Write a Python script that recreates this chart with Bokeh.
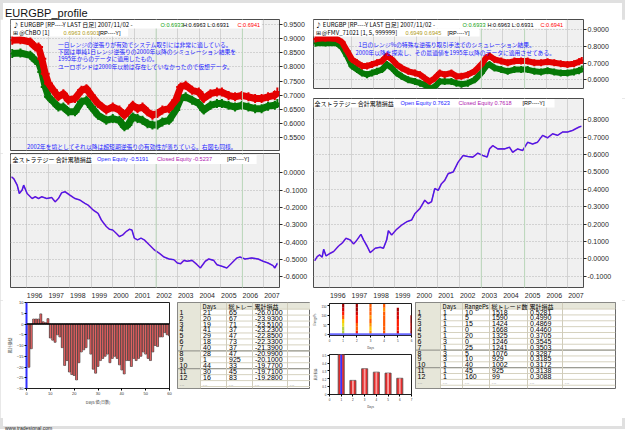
from bokeh.plotting import figure
from bokeh.layouts import row, column
from bokeh.models import (Range1d, FixedTicker, NumeralTickFormatter, Label, Span, BoxAnnotation,
                          ColumnDataSource, LinearColorMapper, Div)
from bokeh.core.properties import value
from bokeh.embed import file_html
from bokeh.resources import INLINE

JP = "Noto Sans CJK JP"
LAT = "Liberation Sans"

YEARS = list(range(1996, 2008))
X_SPAN = (1995.25, 2007.72)
FRAME_W = 270
X_PPU = FRAME_W / (X_SPAN[1] - X_SPAN[0])

# ---------------- price channels (decimal years) ----------------
lp_year = [1995.33, 1995.71, 1996.17, 1996.40, 1996.55, 1996.70, 1996.86, 1997.01, 1997.24, 1997.47,
           1997.70, 1997.93, 1998.24, 1998.54, 1998.77, 1999.00, 1999.31, 1999.69, 1999.99, 2000.30,
           2000.53, 2000.69, 2000.92, 2001.14, 2001.37, 2001.60, 2001.83, 2002.06, 2002.29, 2002.60,
           2002.91, 2003.14, 2003.37, 2003.67, 2003.98, 2004.21, 2004.52, 2004.82, 2005.05, 2005.36,
           2005.66, 2005.97, 2006.28, 2006.59, 2006.89, 2007.19, 2007.50, 2007.62]
lp_upper = [0.894, 0.896, 0.888, 0.870, 0.870, 0.829, 0.776, 0.741, 0.717, 0.694,
            0.705, 0.682, 0.688, 0.717, 0.723, 0.699, 0.670, 0.647, 0.658, 0.647,
            0.629, 0.641, 0.664, 0.652, 0.658, 0.641, 0.629, 0.635, 0.647, 0.652,
            0.682, 0.729, 0.735, 0.717, 0.711, 0.688, 0.705, 0.711, 0.711, 0.699,
            0.694, 0.699, 0.694, 0.688, 0.688, 0.694, 0.699, 0.711]
lp_lower = [0.847, 0.849, 0.841, 0.823, 0.817, 0.782, 0.729, 0.694, 0.676, 0.658,
            0.658, 0.641, 0.641, 0.676, 0.682, 0.658, 0.629, 0.611, 0.617, 0.611,
            0.588, 0.594, 0.623, 0.617, 0.611, 0.599, 0.594, 0.594, 0.605, 0.611,
            0.647, 0.688, 0.694, 0.682, 0.670, 0.647, 0.664, 0.670, 0.670, 0.664,
            0.658, 0.664, 0.658, 0.652, 0.652, 0.661, 0.664, 0.670]

rp_year = [1995.34, 1995.80, 1996.34, 1996.57, 1996.80, 1997.03, 1997.26, 1997.49, 1997.72, 1997.95,
           1998.18, 1998.41, 1998.64, 1998.87, 1999.09, 1999.32, 1999.63, 1999.94, 2000.17, 2000.39,
           2000.62, 2000.85, 2001.08, 2001.31, 2001.62, 2001.85, 2002.08, 2002.38, 2002.69, 2003.00,
           2003.23, 2003.38, 2003.61, 2003.92, 2004.22, 2004.53, 2004.84, 2005.14, 2005.45, 2005.76,
           2006.06, 2006.37, 2006.67, 2006.98, 2007.28, 2007.51, 2007.64]
rp_upper = [0.845, 0.849, 0.845, 0.825, 0.774, 0.723, 0.703, 0.683, 0.683, 0.693,
            0.703, 0.713, 0.744, 0.723, 0.693, 0.672, 0.652, 0.642, 0.632, 0.611,
            0.591, 0.611, 0.642, 0.632, 0.642, 0.622, 0.622, 0.632, 0.652, 0.693,
            0.733, 0.744, 0.723, 0.713, 0.703, 0.713, 0.713, 0.713, 0.703, 0.703,
            0.709, 0.703, 0.697, 0.693, 0.697, 0.709, 0.717]
rp_lower = [0.819, 0.821, 0.819, 0.794, 0.744, 0.683, 0.662, 0.642, 0.632, 0.642,
            0.652, 0.662, 0.693, 0.672, 0.642, 0.622, 0.601, 0.591, 0.581, 0.571,
            0.546, 0.561, 0.591, 0.591, 0.591, 0.581, 0.575, 0.581, 0.601, 0.642,
            0.683, 0.693, 0.672, 0.662, 0.652, 0.662, 0.662, 0.662, 0.652, 0.648,
            0.656, 0.648, 0.642, 0.642, 0.648, 0.656, 0.666]

# ---------------- cumulative equity ----------------
le_year = [1995.30, 1995.40, 1995.56, 1995.66, 1995.79, 1995.86, 1996.02, 1996.25, 1996.40, 1996.55,
           1996.70, 1996.93, 1997.16, 1997.32, 1997.47, 1997.62, 1997.78, 1998.01, 1998.24, 1998.47,
           1998.70, 1998.85, 1999.08, 1999.31, 1999.46, 1999.69, 1999.84, 1999.99, 2000.15, 2000.30,
           2000.46, 2000.61, 2000.76, 2000.88, 2000.99, 2001.14, 2001.30, 2001.45, 2001.68, 2001.91,
           2002.14, 2002.37, 2002.60, 2002.83, 2002.98, 2003.14, 2003.29, 2003.44, 2003.67, 2003.90,
           2004.05, 2004.28, 2004.44, 2004.67, 2004.82, 2005.05, 2005.28, 2005.51, 2005.74, 2005.89,
           2006.12, 2006.43, 2006.73, 2006.96, 2007.19, 2007.42, 2007.50, 2007.62]
le_open = [-0.025, -0.034, -0.072, -0.120, -0.100, -0.072, -0.120, -0.149, -0.139, -0.149,
           -0.139, -0.149, -0.143, -0.168, -0.149, -0.116, -0.110, -0.130, -0.149, -0.158,
           -0.177, -0.187, -0.215, -0.234, -0.272, -0.310, -0.326, -0.330, -0.349, -0.368,
           -0.358, -0.339, -0.326, -0.330, -0.377, -0.387, -0.377, -0.387, -0.415, -0.444,
           -0.463, -0.486, -0.497, -0.501, -0.520, -0.524, -0.505, -0.510, -0.505, -0.530,
           -0.549, -0.510, -0.497, -0.505, -0.530, -0.539, -0.549, -0.520, -0.491, -0.486,
           -0.497, -0.491, -0.497, -0.510, -0.520, -0.535, -0.549, -0.5191]
le_closed = le_open[:-1] + [-0.5237]

re_year = [1995.31, 1995.42, 1995.53, 1995.65, 1995.72, 1995.83, 1995.98, 1996.18, 1996.41, 1996.57,
           1996.75, 1996.95, 1997.10, 1997.26, 1997.44, 1997.56, 1997.72, 1997.87, 1998.10, 1998.33,
           1998.48, 1998.63, 1998.71, 1998.86, 1999.09, 1999.32, 1999.55, 1999.78, 1999.94, 2000.17,
           2000.39, 2000.55, 2000.70, 2000.85, 2001.01, 2001.16, 2001.31, 2001.47, 2001.70, 2001.93,
           2002.16, 2002.38, 2002.61, 2002.84, 2003.07, 2003.27, 2003.38, 2003.53, 2003.76, 2004.07,
           2004.30, 2004.45, 2004.68, 2004.91, 2005.14, 2005.37, 2005.60, 2005.83, 2006.06, 2006.29,
           2006.52, 2006.75, 2006.98, 2007.21, 2007.36, 2007.52, 2007.62]
re_open = [-0.010, 0.013, 0.023, 0.010, 0.055, 0.017, 0.029, 0.042, 0.074, 0.090,
           0.118, 0.109, 0.086, 0.109, 0.141, 0.109, 0.074, 0.036, 0.061, 0.067,
           0.061, 0.109, 0.162, 0.137, 0.170, 0.194, 0.213, 0.223, 0.261, 0.290,
           0.337, 0.318, 0.328, 0.404, 0.394, 0.432, 0.451, 0.490, 0.499, 0.556,
           0.594, 0.588, 0.585, 0.608, 0.594, 0.585, 0.632, 0.651, 0.632, 0.632,
           0.642, 0.613, 0.632, 0.623, 0.670, 0.660, 0.671, 0.710, 0.696, 0.719,
           0.710, 0.729, 0.729, 0.738, 0.748, 0.758, 0.7623]
re_closed = re_open[:-1] + [0.7618]

# ---------------- holding-period profile ----------------
day_num = list(range(1, 61))
day_pnl = [-20.10, -11.5, 2.3, 2.3, 2.3, 4.7, 1.0, 0.6, 2.5, -6.5,
           -7.5, -8.5, -5.0, -6.0, -11.0, -19.28, -17.0, -22.33, -23.51, -23.93,
           -26.01, -18.0, -13.0, -12.0, -11.0, -7.0, -14.0, -20.99, -22.85, -19.71,
           -17.0, -16.0, -15.0, -14.0, -18.0, -16.0, -15.0, -16.0, -19.0, -21.39,
           -23.23, -17.0, -17.0, -19.77, -16.0, -17.0, -16.0, -15.0, -13.0, -14.0,
           -16.0, -17.0, -13.0, -10.0, -10.5, -6.0, -6.0, -4.0, -5.0, -5.5]

lt_days = [21, 20, 19, 41, 29, 18, 40, 28, 1, 44, 30, 16]
lt_trades = [65, 67, 71, 37, 47, 73, 37, 47, 925, 33, 45, 83]
lt_pnl = [-26.01, -23.93, -23.51, -23.23, -22.85, -22.33, -21.39, -20.99, -20.10, -19.77, -19.71, -19.28]

rt_days = [1, 1, 1, 1, 1, 3, 1, 3, 3, 1, 1, 1]
rt_range = [10, 5, 15, 0, 20, 0, 25, 5, 10, 40, 45, 160]
rt_trades = [1518, 1590, 1424, 1668, 1325, 1246, 1241, 1076, 929, 1002, 925, 99]
rt_pnl = [0.5281, 0.4990, 0.4869, 0.4460, 0.3705, 0.3545, 0.3503, 0.3287, 0.3185, 0.3172, 0.3138, 0.3088]

best_day = [1, 2, 3, 4, 5, 6]
best_pnl = [0.5281, 0.180, 0.3287, 0.285, 0.273, 0.207]

heat_bins = [10, 30, 50, 70, 90, 110, 130, 150]
heat_by_day = {
    1: [0.50, 0.48, 0.42, 0.36, 0.30, 0.24, 0.18, 0.14],
    2: [0.22, 0.28, 0.30, 0.26, 0.22, 0.18, 0.16, 0.14],
    3: [0.33, 0.36, 0.34, 0.30, 0.32, 0.30, 0.28, 0.30],
    4: [0.28, 0.30, 0.29, 0.28, 0.29, 0.30, 0.31, 0.30],
    5: [0.20, 0.22, 0.24, 0.22, 0.20, 0.18, 0.16],
    6: [0.16, 0.18, 0.17, 0.15, 0.14],
}


def style_axis(ax, size="7px", tick=3):
    ax.major_label_text_font = LAT
    ax.major_label_text_font_size = size
    ax.major_label_text_color = "#2a2a2a"
    ax.major_tick_line_color = "#2a2a2a"
    ax.major_tick_in = 0
    ax.major_tick_out = tick
    ax.minor_tick_line_color = None
    ax.axis_line_color = None
    ax.major_label_standoff = 1


def market_panel(width, height, borders, y_top, ppu, yticks, dates=False, green_years=()):
    left, right, top, bottom = borders
    frame_h = height - top - bottom
    p = figure(width=width, height=height,
               x_range=Range1d(*X_SPAN), y_range=Range1d(y_top - frame_h / ppu, y_top),
               output_backend="svg", toolbar_location=None,
               x_axis_location="below" if dates else None, y_axis_location="right",
               min_border_left=left, min_border_right=right,
               min_border_top=top, min_border_bottom=bottom,
               background_fill_color="#f0f0f0", border_fill_color="white",
               outline_line_color="#4c4c4c", outline_line_width=1)
    ya = p.yaxis[0]
    ya.ticker = FixedTicker(ticks=yticks)
    ya.formatter = NumeralTickFormatter(format="0.0000")
    style_axis(ya)
    p.xgrid.ticker = FixedTicker(ticks=YEARS)
    p.xgrid.grid_line_color = "#d2d2d2"
    p.ygrid.grid_line_color = "#b4b4b4"
    p.ygrid.grid_line_dash = "1 2"
    for yr in green_years:
        p.add_layout(Span(location=yr, dimension="height", line_color="#bcd9bc", line_width=1))
    if dates:
        # year labels sit just right of each year boundary
        xa = p.xaxis[0]
        label_pos = [y + 0.37 for y in YEARS]
        xa.ticker = FixedTicker(ticks=label_pos)
        xa.major_label_overrides = {pos: str(y) for pos, y in zip(label_pos, YEARS)}
        style_axis(xa)
        xa.major_tick_line_color = None
        xa.major_label_standoff = 2
    return p


def tag(p, y_top, ppu, dx, dy, text, color="#000000", size="5.6px", font=LAT, at_right=False):
    lab = Label(x=X_SPAN[1] if at_right else X_SPAN[0], y=y_top - dy / ppu, x_offset=dx,
                text=text, text_color=color, text_font_size=size, text_font=font,
                text_baseline="middle", text_align="left")
    p.add_layout(lab)


def white_strip(p, y_top, ppu, px_right, dy0, dy1):
    p.add_layout(BoxAnnotation(left=X_SPAN[0], right=X_SPAN[0] + px_right / X_PPU,
                               top=y_top - dy0 / ppu, bottom=y_top - dy1 / ppu,
                               fill_color="white", fill_alpha=1.0, line_color=None))


# ---------------- left: price with channel breakout ----------------
LP_TOP, LP_PPU = 0.9677, 282.5
lp = market_panel(310, 134, (10, 30, 0, 3), LP_TOP, LP_PPU,
                  [0.55, 0.60, 0.65, 0.70, 0.75, 0.80, 0.85, 0.90, 0.95], green_years=(2002, 2006))
lp.line(lp_year, lp_lower, line_color="#067806", line_width=7, line_join="round")
lp.scatter(lp_year, lp_lower, marker="cross", size=9, line_color="#067806", line_width=2)
lp.line(lp_year, lp_upper, line_color="#e40000", line_width=7, line_join="round")
lp.scatter(lp_year, lp_upper, marker="cross", size=9, line_color="#e40000", line_width=2)
white_strip(lp, LP_TOP, LP_PPU, 252, 0.5, 9)
white_strip(lp, LP_TOP, LP_PPU, 118, 9, 17)
tag(lp, LP_TOP, LP_PPU, 2.5, 5, "♪ EURGBP [RP----Y LAST 日足] 2007/11/02 - ", size="6px", font=JP)
tag(lp, LP_TOP, LP_PPU, 150, 5, "O:0.6933", color="#10a010")
tag(lp, LP_TOP, LP_PPU, 172.5, 5, "H:0.6963 L:0.6931")
tag(lp, LP_TOP, LP_PPU, 227, 5, "C:0.6941", color="#ff0000")
tag(lp, LP_TOP, LP_PPU, 2.5, 13, "⊞ @ChBO [1]", size="6px", font=JP)
tag(lp, LP_TOP, LP_PPU, 53, 13, "0.6963 0.6901", color="#b09a20")
tag(lp, LP_TOP, LP_PPU, 88, 13, "[RP----Y]")
note_lines = ["一日レンジの逆張りが有効でシステム取引には非常に適している。",
              "下図は単純1日レンジ逆張りの2000年以降のシミュレーション結果を",
              "1995年からのデータに適用したもの。",
              "ユーロポンドは2000年以前は存在していなかったので仮想データ。"]
for i, line in enumerate(note_lines):
    tag(lp, LP_TOP, LP_PPU, 47.5, 25 + i * 7.2, line, color="#1c1cff", size="5.8px", font=JP)
tag(lp, LP_TOP, LP_PPU, 16.5, 126.7,
    "2002年を境としてそれ以降は超短期逆張りの有効性が落ちている。右図も同様。",
    color="#1c1cff", size="5.8px", font=JP)

# ---------------- left: cumulative equity ----------------
LE_TOP, LE_PPU = 0.1103, 175.0
le = market_panel(310, 147, (10, 30, 0, 12), LE_TOP, LE_PPU,
                  [-0.6, -0.5, -0.4, -0.3, -0.2, -0.1, 0.0], dates=True, green_years=(2002, 2006))
le.line(le_year, le_closed, line_color="#a020d0", line_width=1.6)
le.line(le_year, le_open, line_color="#2424f0", line_width=0.9)
white_strip(le, LE_TOP, LE_PPU, 247, 1.5, 10.5)
tag(le, LE_TOP, LE_PPU, 2, 6, "全ストラテジー 合計累積損益", size="6px", font=JP)
tag(le, LE_TOP, LE_PPU, 86.5, 6, "Open Equity -0.5191", color="#1a1aff")
tag(le, LE_TOP, LE_PPU, 146.5, 6, "Closed Equity -0.5237", color="#b020b0")
tag(le, LE_TOP, LE_PPU, 216.5, 6, "[RP----Y]")
tag(le, LE_TOP, LE_PPU, 3, 5, "CEquity", size="6.5px", at_right=True)

# ---------------- right: price with range filter ----------------
RP_TOP, RP_PPU = 0.9616, 167.3
rp = market_panel(315, 79, (3, 42, 0, 10), RP_TOP, RP_PPU, [0.6, 0.7, 0.8, 0.9],
                  green_years=(2003, 2005))
rp.line(rp_year, rp_lower, line_color="#067806", line_width=6, line_join="round")
rp.scatter(rp_year, rp_lower, marker="cross", size=7, line_color="#067806", line_width=2)
rp.line(rp_year, rp_upper, line_color="#e40000", line_width=6, line_join="round")
rp.scatter(rp_year, rp_upper, marker="cross", size=7, line_color="#e40000", line_width=2)
white_strip(rp, RP_TOP, RP_PPU, 252, 0.5, 9)
white_strip(rp, RP_TOP, RP_PPU, 166, 9, 17)
tag(rp, RP_TOP, RP_PPU, 2, 5, "♪ EURGBP [RP----Y LAST 日足] 2007/11/02 - ", size="6px", font=JP)
tag(rp, RP_TOP, RP_PPU, 149, 5, "O:0.6933", color="#10a010")
tag(rp, RP_TOP, RP_PPU, 174, 5, "H:0.6963 L:0.6931")
tag(rp, RP_TOP, RP_PPU, 227, 5, "C:0.6941", color="#ff0000")
tag(rp, RP_TOP, RP_PPU, 2, 13, "⊞ @FMV_71021 [1, 5, 999999]", size="6px", font=JP)
tag(rp, RP_TOP, RP_PPU, 92, 13, "0.6949 0.6945", color="#b09a20")
tag(rp, RP_TOP, RP_PPU, 134, 13, "[RP----Y]")
tag(rp, RP_TOP, RP_PPU, 45, 25.3, "1日のレンジ%の特殊な逆張り取引手法でのシミュレーション結果。",
    color="#1c1cff", size="5.8px", font=JP)
tag(rp, RP_TOP, RP_PPU, 42, 33.3, "2000年以降を探索し、その最適値を1995年以降のデータに適用させてある。",
    color="#1c1cff", size="5.8px", font=JP)

# ---------------- right: cumulative equity ----------------
RE_TOP, RE_PPU = 0.9218, 174.9
re = market_panel(315, 202, (3, 42, 0, 12), RE_TOP, RE_PPU,
                  [-0.1, 0.0, 0.1, 0.2, 0.3, 0.4, 0.5, 0.6, 0.7, 0.8], dates=True,
                  green_years=(2003, 2005))
re.line(re_year, re_closed, line_color="#a020d0", line_width=1.6)
re.line(re_year, re_open, line_color="#2424f0", line_width=0.9)
white_strip(re, RE_TOP, RE_PPU, 241, 0.5, 9)
tag(re, RE_TOP, RE_PPU, 1, 5, "全ストラテジー 合計累積損益", size="6px", font=JP)
tag(re, RE_TOP, RE_PPU, 87, 5, "Open Equity 0.7623", color="#1a1aff")
tag(re, RE_TOP, RE_PPU, 145, 5, "Closed Equity 0.7618", color="#b020b0")
tag(re, RE_TOP, RE_PPU, 209, 5, "[RP----Y]")
tag(re, RE_TOP, RE_PPU, 2, 4, "CEquity", size="6.5px", at_right=True)


# ---------------- bottom: small charts ----------------
def tiny_axes(p, xticks, yticks, xlabel, ylabel, size="3.5px"):
    for ax, ticks in ((p.xaxis[0], xticks), (p.yaxis[0], yticks)):
        ax.ticker = FixedTicker(ticks=ticks)
        ax.major_label_text_font = LAT
        ax.major_label_text_font_size = size
        ax.major_label_text_color = "#333333"
        ax.major_tick_in = 0
        ax.major_tick_out = 2
        ax.minor_tick_line_color = None
        ax.major_label_standoff = 1
        ax.axis_label_text_font = JP
        ax.axis_label_text_font_size = size
        ax.axis_label_text_font_style = "normal"
        ax.axis_label_standoff = 1
        ax.axis_line_color = "#202020"
    p.xaxis[0].axis_label = xlabel
    p.yaxis[0].axis_label = ylabel
    p.grid.visible = False


bar = figure(width=175, height=118, x_range=Range1d(0, 60), y_range=Range1d(-30, 10),
             output_backend="svg", toolbar_location=None,
             min_border_left=26, min_border_right=6, min_border_top=2, min_border_bottom=30,
             background_fill_color="white", border_fill_color="white",
             outline_line_color="#202020")
bar.vbar(x=day_num, top=day_pnl, bottom=0, width=0.82, fill_color="#dd2a2a",
         line_color="#3c3c3c", line_width=0.7)
bar.vbar(x=day_num, top=day_pnl, bottom=0, width=0.25, fill_color="#f4a0a0",
         line_color=None, fill_alpha=0.8)
bar.add_layout(Span(location=0, dimension="width", line_color="#000000", line_width=1.5))
tiny_axes(bar, [0, 10, 20, 30, 40, 50, 60], [-30, -25, -20, -15, -10, -5, 0, 5, 10],
          "Days 値(日数)", "累計損益", size="4px")
bar.yaxis[0].axis_line_color = "#3030ff"
bar.yaxis[0].axis_line_width = 2

hd, hr, hv = [], [], []
for d, vals in heat_by_day.items():
    for rng, v in zip(heat_bins, vals):
        hd.append(d)
        hr.append(rng)
        hv.append(v)
heat_src = ColumnDataSource(dict(day=hd, rng=hr, val=hv))
heat_map = LinearColorMapper(palette=["#a00000", "#d00000", "#ff1a00", "#ff5a00", "#ff9200",
                                      "#ffc400", "#e8e020", "#b4d040"], low=0.12, high=0.5)
heat = figure(width=105, height=52, x_range=Range1d(0, 6), y_range=Range1d(-6, 162),
              output_backend="svg", toolbar_location=None,
              min_border_left=10, min_border_right=4, min_border_top=3, min_border_bottom=8,
              background_fill_color="white", border_fill_color="white",
              outline_line_color="#202020")
heat.rect(x="day", y="rng", width=0.16, height=20, source=heat_src,
          fill_color={"field": "val", "transform": heat_map}, line_color=None)
heat.add_layout(Span(location=0, dimension="width", line_color="#6a6aff", line_width=2))
tiny_axes(heat, [0, 1, 2, 3, 4, 5, 6], [0, 50, 100, 150], "Days", "RangePs", size="3px")

best = figure(width=105, height=66, x_range=Range1d(0, 7), y_range=Range1d(0, 0.51),
              output_backend="svg", toolbar_location=None,
              min_border_left=10, min_border_right=4, min_border_top=2, min_border_bottom=24,
              background_fill_color="white", border_fill_color="white",
              outline_line_color="#202020")
best.vbar(x=best_day, top=best_pnl, width=0.52, fill_color="#e42c2c", line_color="#505050",
          line_width=0.8)
best.vbar(x=best_day, top=best_pnl, width=0.16, fill_color="#ffd0d0", line_color=None,
          fill_alpha=0.7)
best.vbar(x=best_day[:1], top=best_pnl[:1], width=0.16, fill_color="#3434ff", line_color=None)
tiny_axes(best, [0, 1, 2, 3, 4, 5, 6, 7], [0, 0.1, 0.2, 0.3, 0.4, 0.5], "Days", "累計損益", size="3px")


# ---------------- bottom: ranking tables ----------------
def ranking_table(width, height, pad_left, pad_right, pad_bottom, edges, pitch, header_dy,
                  header, cols):
    inner_w = width - pad_left - pad_right
    inner_h = height - pad_bottom
    top = -header_dy / pitch
    bottom = top + inner_h / pitch
    n = len(cols[0])
    p = figure(width=width, height=height,
               x_range=Range1d(0, inner_w), y_range=Range1d(bottom, top),
               x_axis_location=None, y_axis_location=None, output_backend="svg",
               toolbar_location=None, min_border=0, min_border_left=pad_left,
               min_border_right=pad_right, min_border_bottom=pad_bottom,
               background_fill_color="white", border_fill_color="white",
               outline_line_color="#6a6a6a", outline_line_width=1)
    p.grid.visible = False
    p.quad(left=0, right=edges[1], top=top, bottom=bottom, fill_color="#e6e6d9", line_color=None)
    p.quad(left=edges[1], right=inner_w, top=top, bottom=0.5, fill_color="#e6e6d9", line_color=None)
    sep = [r + 0.5 for r in range(0, n + 2)]
    p.segment(x0=edges[1], y0=sep, x1=inner_w, y1=sep, line_color="#d6d2bf", line_width=1)
    p.segment(x0=0, y0=[7.5, 10.5], x1=inner_w, y1=[7.5, 10.5], line_color="#9c9c94", line_width=1.2)
    p.segment(x0=edges[1:-1], y0=top, x1=edges[1:-1], y1=bottom, line_color="#d0ccba", line_width=1)
    rows = list(range(1, n + 1))
    p.text(x=edges[1:1 + len(header)], y=0, text=header, x_offset=2, text_baseline="middle",
           text_font=value(JP), text_font_size="6px", text_color="#000000")
    p.text(x=0, y=rows, text=[str(r) for r in rows], x_offset=2, text_baseline="middle",
           text_font=value(LAT), text_font_size="7px", text_color="#000000")
    for j, col in enumerate(cols):
        p.text(x=edges[j + 1], y=rows, text=col, x_offset=2.5, text_baseline="middle",
               text_font=value(LAT), text_font_size="7px", text_color="#000000")
    p.text(x=edges[:-1], y=n + 1, text=["..."] * (len(edges) - 1), x_offset=2,
           text_baseline="middle", text_font=value(LAT), text_font_size="6px",
           text_color="#8a8a8a")
    return p


lt = ranking_table(135, 118, 2, 0, 1, [0, 23, 49, 75, 110, 133], 8.1, 5,
                   ["Days", "総トレー", "累計損益"],
                   [[str(v) for v in lt_days], [str(v) for v in lt_trades],
                    [f"{v:.4f}" for v in lt_pnl]])
rt = ranking_table(210, 118, 0, 10, 0, [0, 25, 47, 74, 112, 147, 200], 8.04, 5,
                   ["Days", "RangePs", "総トレード数", "累計損益"],
                   [[str(v) for v in rt_days], [str(v) for v in rt_range],
                    [str(v) for v in rt_trades], [f"{v:.4f}" for v in rt_pnl]])

title = Div(text='<div style="text-align:center;font-family:\'Liberation Sans\';font-size:11px;'
                 'line-height:12px;color:#111">EURGBP_profile</div>',
            width=615, height=14, margin=(5, 5, 0, 5))
footer = Div(text='<div style="text-align:center;font-family:\'Liberation Sans\';font-size:5px;'
                  'line-height:6px;color:#222">www.tradesignal.com</div>',
             width=615, height=6, margin=(0, 5, 5, 5))

top_row = row(column(lp, le), column(rp, re))
bottom_row = row(bar, lt, column(heat, best), rt)
page = column(title, top_row, bottom_row, footer,
              styles={"outline": "3px solid #e0e0e0", "outline-offset": "-3px",
                      "background-color": "#ffffff"})

open("out.html", "w").write(file_html(page, INLINE))
